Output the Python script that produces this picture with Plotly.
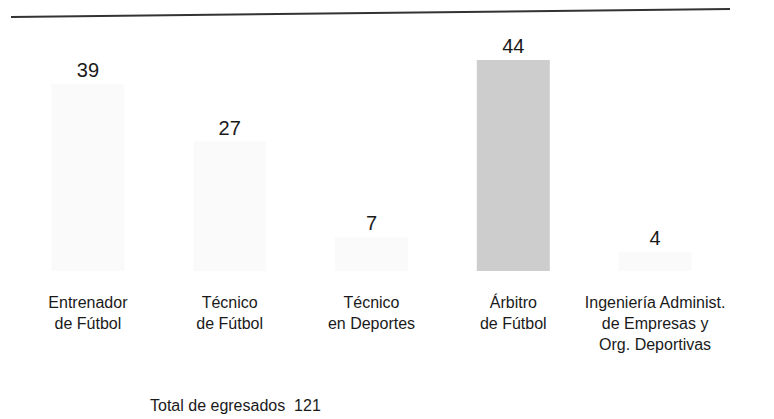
import plotly.graph_objects as go

categories = [
    "Entrenador<br>de Fútbol",
    "Técnico<br>de Fútbol",
    "Técnico<br>en Deportes",
    "Árbitro<br>de Fútbol",
    "Ingeniería Administ.<br>de Empresas y<br>Org. Deportivas",
]
values = [39, 27, 7, 44, 4]
bar_colors = ["#fafafa", "#fafafa", "#fafafa", "#cdcdcd", "#fafafa"]
total_label = "Total de egresados"
total_value = sum(values)

# page body has an 8px margin, so the figure is drawn 8px smaller and offset
OFF = 8
W, H = 774 - OFF, 419 - OFF
L, R, T, B = 17 - OFF, 48, 30 - OFF, 148
pw, ph = W - L - R, H - T - B

def px(x):
    return (x - OFF - L) / pw

def py(y):
    return (H - B - (y - OFF)) / ph

fig = go.Figure(
    go.Bar(
        x=categories,
        y=values,
        marker=dict(color=bar_colors, line=dict(width=0)),
        width=0.515,
        text=[str(v) for v in values],
        textposition="outside",
        textfont=dict(size=20, color="#1a1a1a"),
        cliponaxis=False,
    )
)

fig.add_shape(
    type="line", xref="paper", yref="paper",
    x0=px(11), y0=py(17), x1=px(730), y1=py(9),
    line=dict(color="#333333", width=2),
)

fig.add_annotation(
    xref="paper", yref="paper", x=px(148), y=py(405),
    xanchor="left", yanchor="middle", showarrow=False,
    text=f"{total_label}&nbsp;&nbsp;{total_value}",
    font=dict(size=16, color="#1a1a1a"),
)

fig.update_layout(
    width=W, height=H,
    margin=dict(l=L, r=R, t=T, b=B, pad=0),
    paper_bgcolor="white", plot_bgcolor="white",
    font=dict(family="Liberation Sans, Arial, sans-serif", color="#1a1a1a"),
    showlegend=False,
    xaxis=dict(
        showgrid=False, showline=False, zeroline=False, ticks="",
        tickfont=dict(size=16, color="#1a1a1a"),
        ticklabelstandoff=20,
    ),
    yaxis=dict(
        range=[0, 50.26], visible=False, showgrid=False, zeroline=False,
    ),
)

fig.write_html("out.html")
